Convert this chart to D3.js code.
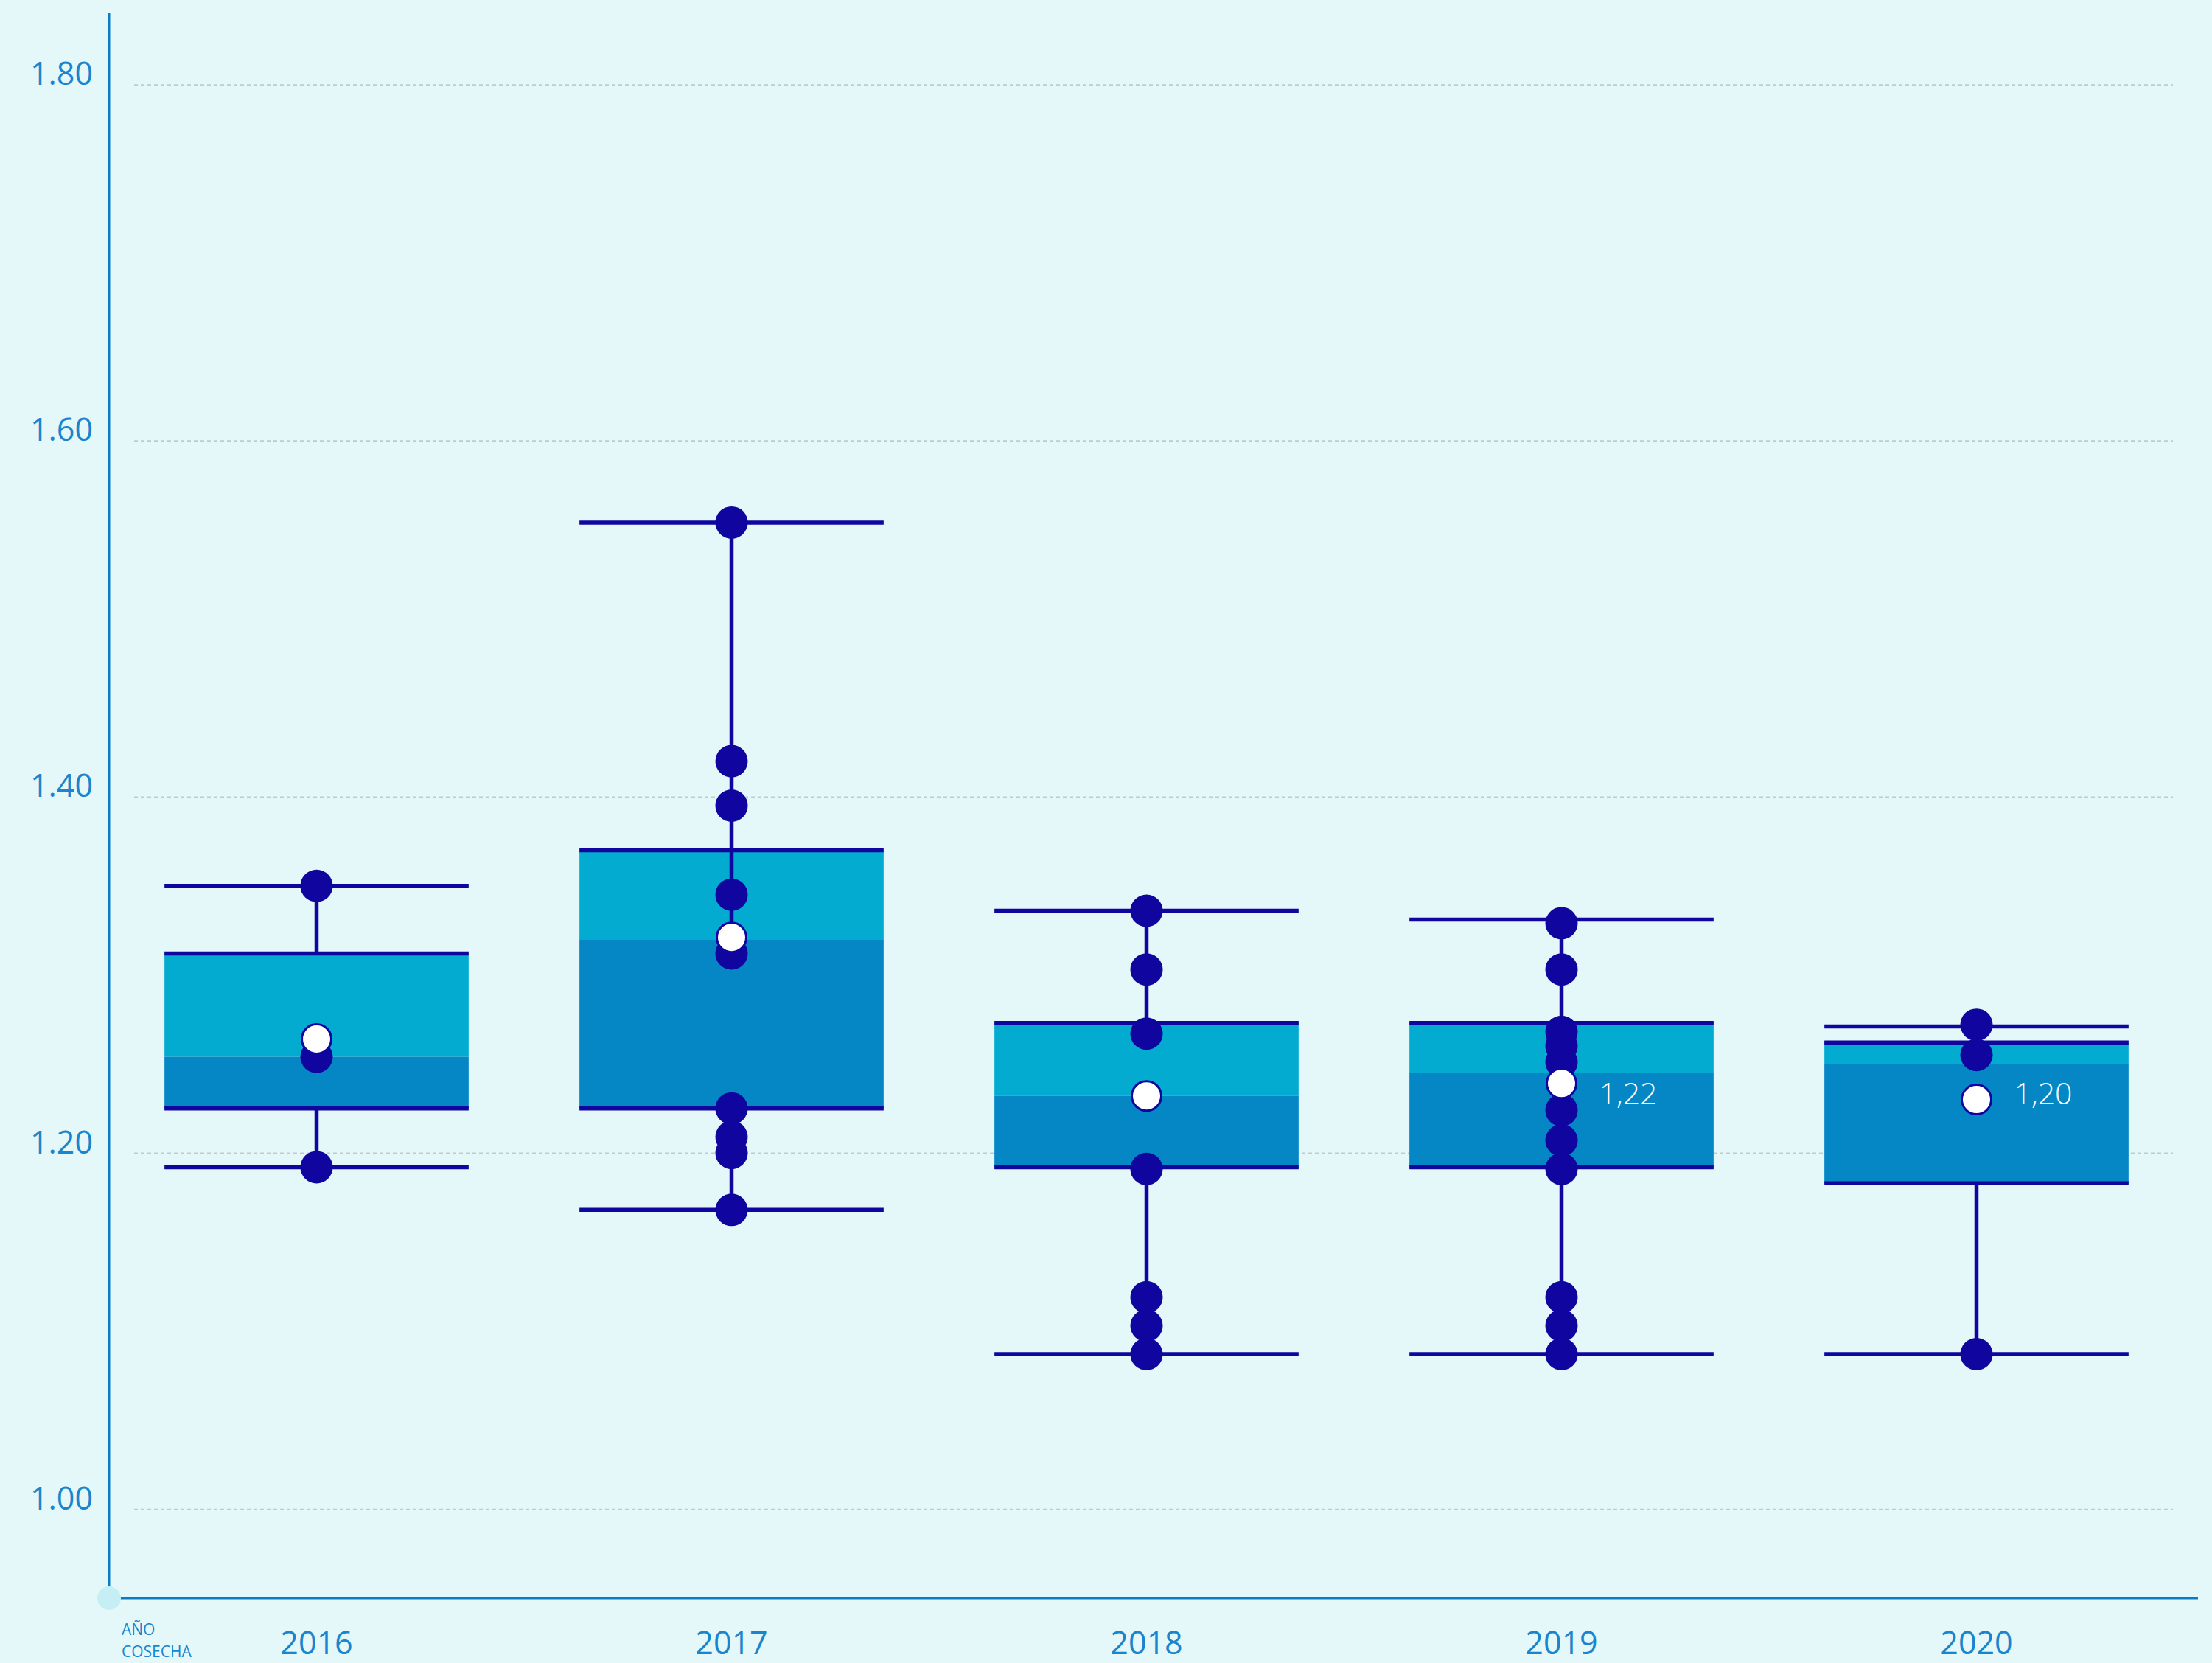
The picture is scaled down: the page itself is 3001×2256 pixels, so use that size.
<!DOCTYPE html>
<html>
<head>
<meta charset="utf-8">
<script src="https://cdn.jsdelivr.net/npm/d3@7"></script>
<style>
  html, body { margin: 0; padding: 0; background: #e4f8fa; }
  svg { display: block; font-family: "Open Sans", "Noto Sans", sans-serif; }
</style>
</head>
<body>
<script>
const w = 3001;
const h = 2256;

// data
const years = ["2016", "2017", "2018", "2019", "2020"];
const maxV = [1.35, 1.554, 1.336, 1.331, 1.271];
const q3 = [1.312, 1.37, 1.273, 1.273, 1.262];
const median = [1.254, 1.32, 1.232, 1.245, 1.25];
const q1 = [1.225, 1.225, 1.192, 1.192, 1.183];
const minV = [1.192, 1.168, 1.087, 1.087, 1.087];
const stemTop = [1.312, 1.32, 1.273, 1.273, 1.262];
const means = [1.264, 1.321, 1.232, 1.239, 1.23];
const meanLabels = ["", "", "", "1,22", "1,20"];
const points = [
  [1.35, 1.254, 1.192],
  [1.554, 1.42, 1.395, 1.345, 1.312, 1.225, 1.209, 1.2, 1.168],
  [1.336, 1.303, 1.267, 1.191, 1.119, 1.103, 1.087],
  [1.329, 1.303, 1.268, 1.26, 1.251, 1.224, 1.207, 1.191, 1.119, 1.103, 1.087],
  [1.272, 1.255, 1.087]
];
const yTicks = [1.0, 1.2, 1.4, 1.6, 1.8];

const navy = "#10069f";
const axisBlue = "#0a7cc6";
const textBlue = "#1a85cc";
const boxTop = "#03abd0";
const boxBottom = "#0487c4";

const rows = years.map((y, i) => ({
  year: y, max: maxV[i], q3: q3[i], med: median[i], q1: q1[i], min: minV[i],
  stem: stemTop[i], mean: means[i], label: meanLabels[i], pts: points[i]
}));

const svg = d3.select("body").append("svg").attr("width", w).attr("height", h);

const xScale = d3.scaleBand()
  .domain(years)
  .range([148, 2963])
  .paddingInner(0.267)
  .paddingOuter(0.1335);
const bw = xScale.bandwidth();
const cx = (d) => xScale(d.year) + bw / 2;

const yScale = d3.scaleLinear().domain([0.95, 1.84]).range([2168, 18]);

// grid
const grid = svg.append("g")
  .attr("transform", "translate(182,0)")
  .call(d3.axisLeft(yScale).tickValues(yTicks).tickSize(-2766).tickFormat(""));
grid.select(".domain").remove();
grid.selectAll("line")
  .attr("stroke", "#bfcaca")
  .attr("stroke-width", 2)
  .attr("stroke-dasharray", "5,4");

// y labels
const yAG = svg.append("g")
  .attr("transform", "translate(148,0)")
  .call(d3.axisLeft(yScale).tickValues(yTicks).tickSize(0).tickPadding(22).tickFormat(d3.format(".2f")));
yAG.select(".domain").remove();
yAG.selectAll("text")
  .attr("dy", 0)
  .attr("fill", textBlue)
  .attr("font-size", 43)
  .attr("font-family", "Open Sans, Noto Sans, sans-serif");

// x labels
const xAG = svg.append("g")
  .attr("transform", "translate(0,2168)")
  .call(d3.axisBottom(xScale).tickSize(0).tickPadding(76));
xAG.select(".domain").remove();
xAG.selectAll("text")
  .attr("dy", 0)
  .attr("fill", textBlue)
  .attr("font-size", 43)
  .attr("font-family", "Open Sans, Noto Sans, sans-serif");

// axes lines
svg.append("line")
  .attr("x1", 148).attr("x2", 148).attr("y1", 18).attr("y2", 2168)
  .attr("stroke", axisBlue).attr("stroke-width", 3);
svg.append("line")
  .attr("x1", 148).attr("x2", 2982).attr("y1", 2168).attr("y2", 2168)
  .attr("stroke", axisBlue).attr("stroke-width", 3);
svg.append("circle")
  .attr("cx", 148).attr("cy", 2168).attr("r", 16)
  .attr("fill", "#c5eff5");

// axis caption
svg.append("text")
  .attr("x", 165).attr("y", 2218)
  .attr("fill", textBlue).attr("font-size", 21)
  .text("AÑO");
svg.append("text")
  .attr("x", 165).attr("y", 2248)
  .attr("fill", textBlue).attr("font-size", 21)
  .text("COSECHA");

const g = svg.append("g");

// boxes
g.selectAll(".upper").data(rows).enter().append("rect")
  .attr("x", (d) => xScale(d.year))
  .attr("width", bw)
  .attr("y", (d) => yScale(d.q3))
  .attr("height", (d) => yScale(d.med) - yScale(d.q3))
  .attr("fill", boxTop);
g.selectAll(".lower").data(rows).enter().append("rect")
  .attr("x", (d) => xScale(d.year))
  .attr("width", bw)
  .attr("y", (d) => yScale(d.med))
  .attr("height", (d) => yScale(d.q1) - yScale(d.med))
  .attr("fill", boxBottom);

// box edges and whisker caps
["q3", "q1", "max", "min"].forEach((k) => {
  g.selectAll(".edge-" + k).data(rows).enter().append("line")
    .attr("x1", (d) => xScale(d.year))
    .attr("x2", (d) => xScale(d.year) + bw)
    .attr("y1", (d) => yScale(d[k]))
    .attr("y2", (d) => yScale(d[k]))
    .attr("stroke", navy)
    .attr("stroke-width", 5.5);
});

// stems
g.selectAll(".stem-up").data(rows).enter().append("line")
  .attr("x1", cx).attr("x2", cx)
  .attr("y1", (d) => yScale(d.max))
  .attr("y2", (d) => yScale(d.stem))
  .attr("stroke", navy).attr("stroke-width", 5.5);
g.selectAll(".stem-down").data(rows).enter().append("line")
  .attr("x1", cx).attr("x2", cx)
  .attr("y1", (d) => yScale(d.q1))
  .attr("y2", (d) => yScale(d.min))
  .attr("stroke", navy).attr("stroke-width", 5.5);

// points
rows.forEach((d) => {
  g.selectAll(null).data(d.pts).enter().append("circle")
    .attr("cx", cx(d))
    .attr("cy", (v) => yScale(v))
    .attr("r", 22)
    .attr("fill", navy);
});

// means
g.selectAll(".mean").data(rows).enter().append("circle")
  .attr("cx", cx)
  .attr("cy", (d) => yScale(d.mean))
  .attr("r", 20)
  .attr("fill", "#ffffff")
  .attr("stroke", navy)
  .attr("stroke-width", 3);

g.selectAll(".mean-label").data(rows.filter((d) => d.label)).enter().append("text")
  .attr("x", (d) => cx(d) + 51)
  .attr("y", 1498)
  .attr("fill", "#ffffff")
  .attr("font-size", 41)
  .attr("font-weight", 300)
  .text((d) => d.label);
</script>
</body>
</html>
